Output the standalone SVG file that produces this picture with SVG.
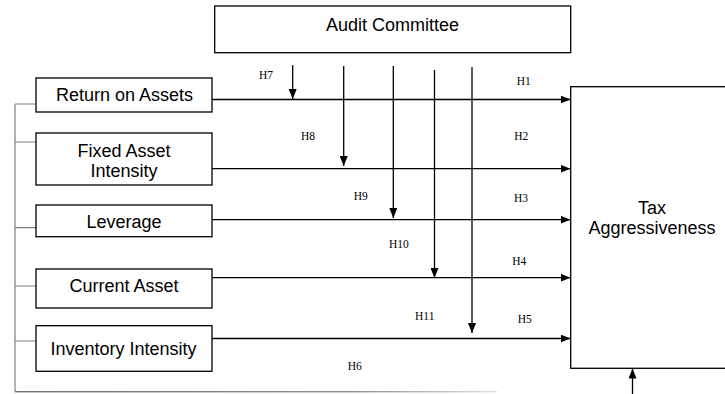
<svg xmlns="http://www.w3.org/2000/svg" width="725" height="394" viewBox="0 0 725 394">
<style>
.box{fill:#fff;stroke:#000;stroke-width:1.3}
.lbl{font-family:"Liberation Sans",Arial,sans-serif;font-size:18px;fill:#000;text-anchor:middle}
.h{font-family:"Liberation Serif","Times New Roman",serif;font-size:11.5px;fill:#000;text-anchor:middle}
.ln{stroke:#000;stroke-width:1.3;fill:none}
.arr{stroke:#000;stroke-width:1.3;fill:none;marker-end:url(#ah)}
.gr{stroke:#808080;stroke-width:1.2;fill:none}
</style>
<defs>
<marker id="ah" markerUnits="userSpaceOnUse" markerWidth="10" markerHeight="8" viewBox="0 0 10 8" refX="10" refY="4" orient="auto">
<path d="M0,0 L10,4 L0,8 Z" fill="#000"/>
</marker>
<linearGradient id="fade" x1="0" y1="0" x2="1" y2="0">
<stop offset="0" stop-color="#707070"/>
<stop offset="0.7" stop-color="#909090"/>
<stop offset="1" stop-color="#e0e0e0"/>
</linearGradient>
</defs>
<g id="connectors">
<path class="gr" d="M15,104 V391.5"/>
<path class="gr" d="M15,104 H36 M15,142 H36 M15,227.7 H36 M15,286 H36 M15,341 H36"/>
<rect x="15" y="391" width="482" height="1.4" fill="url(#fade)"/>
<path class="arr" d="M212,99.5 H570.5"/>
<path class="arr" d="M212,168.7 H570.5"/>
<path class="arr" d="M212,219.7 H570.5"/>
<path class="arr" d="M212,277.7 H570.5"/>
<path class="arr" d="M212,338.5 H570.5"/>
<path class="arr" d="M292.7,65 V99"/>
<path class="arr" d="M343.7,66 V166"/>
<path class="arr" d="M393.3,66 V218"/>
<path class="arr" d="M434.5,70 V278"/>
<path class="arr" d="M472,67 V333"/>
<path class="arr" d="M632.5,394 V368.5"/>
<text class="h" x="266" y="78.7">H7</text>
<text class="h" x="308" y="140">H8</text>
<text class="h" x="360.8" y="200">H9</text>
<text class="h" x="398.8" y="247.7">H10</text>
<text class="h" x="424.7" y="320">H11</text>
<text class="h" x="354.7" y="370">H6</text>
<text class="h" x="523.7" y="85">H1</text>
<text class="h" x="521.3" y="140.3">H2</text>
<text class="h" x="521" y="201.7">H3</text>
<text class="h" x="519.3" y="265">H4</text>
<text class="h" x="524.8" y="323">H5</text>
</g>
<g id="audit-committee">
<rect class="box" x="214.7" y="6" width="356" height="46.7"/>
<text class="lbl" x="392.5" y="30.7">Audit Committee</text>
</g>
<g id="return-on-assets">
<rect class="box" x="36" y="78" width="176" height="34"/>
<text class="lbl" x="124.5" y="100.7">Return on Assets</text>
</g>
<g id="fixed-asset-intensity">
<rect class="box" x="36" y="133" width="176" height="52"/>
<text class="lbl" x="124" y="156.7">Fixed Asset</text>
<text class="lbl" x="124" y="176.5">Intensity</text>
</g>
<g id="leverage">
<rect class="box" x="36" y="205" width="176" height="31.7"/>
<text class="lbl" x="124" y="228.3">Leverage</text>
</g>
<g id="current-asset">
<rect class="box" x="36" y="269" width="176" height="39"/>
<text class="lbl" x="124" y="291.7">Current Asset</text>
</g>
<g id="inventory-intensity">
<rect class="box" x="36" y="325.7" width="176" height="45.6"/>
<text class="lbl" x="123.5" y="355">Inventory Intensity</text>
</g>
<g id="tax-aggressiveness">
<rect class="box" x="570.7" y="86.7" width="170" height="281.6"/>
<text class="lbl" x="652" y="214">Tax</text>
<text class="lbl" x="652" y="234">Aggressiveness</text>
</g>
</svg>
